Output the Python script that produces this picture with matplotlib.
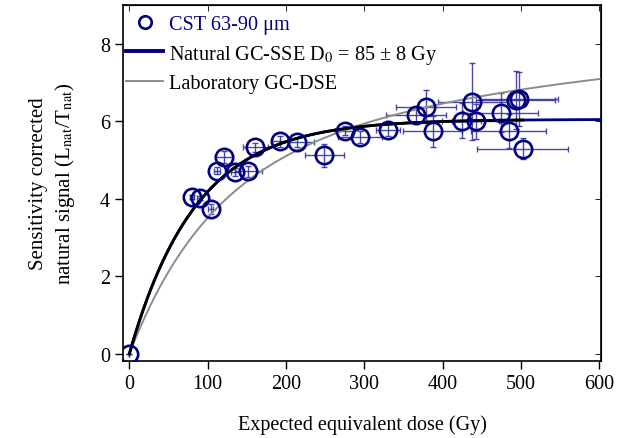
import numpy as np
import matplotlib
matplotlib.use("Agg")
import matplotlib.pyplot as plt

plt.rcParams["font.family"] = ["Liberation Serif", "DejaVu Serif"]
plt.rcParams["mathtext.fontset"] = "stix"

# measured points: expected dose (Gy), Lnat/Tnat and errors
dose = [0, 80, 90, 104, 112, 121, 135, 152, 161, 192, 214, 249, 275, 294, 330,
        366, 379, 387, 424, 438, 442, 474, 484, 493, 497, 502]
signal = [0.0, 4.04, 4.02, 3.74, 4.73, 5.08, 4.70, 4.71, 5.33, 5.48, 5.46, 5.12, 5.76,
          5.60, 5.78, 6.17, 6.38, 5.74, 6.02, 6.51, 6.00, 6.22, 5.75, 6.55, 6.58, 5.29]
dose_err = [0, 3, 3, 3, 4, 11, 5, 17, 16, 10, 22, 25, 12, 28, 15,
            38, 38, 38, 25, 44, 30, 48, 48, 50, 50, 58]
signal_err = [0, 0.05, 0.05, 0.12, 0.1, 0.15, 0.1, 0.15, 0.12, 0.15, 0.12, 0.3, 0.12,
              0.15, 0.15, 0.2, 0.42, 0.4, 0.45, 1.0, 0.45, 0.5, 0.45, 0.75, 0.7, 0.27]

# fitted curve parameters
sse_a, sse_d0 = 6.05, 85.0
dse_a1, dse_d1, dse_a2, dse_d2 = 4.5, 100.0, 3.8, 520.0

x = np.linspace(0, 600, 400)
sse = sse_a * (1 - np.exp(-x / sse_d0))
dse = dse_a1 * (1 - np.exp(-x / dse_d1)) + dse_a2 * (1 - np.exp(-x / dse_d2))

fig = plt.figure(figsize=(6.39, 4.39), dpi=100)
ax = fig.add_axes([0.1925, 0.1754, 0.748, 0.811])

ax.errorbar(dose, signal, xerr=dose_err, yerr=signal_err, fmt="none",
            ecolor="#2a2a9a", elinewidth=1.0, capsize=2.5, alpha=0.85, zorder=2)
ax.plot(x, dse, color="#8c8c8c", lw=1.4, zorder=3, label="Laboratory GC-DSE")
ax.plot(x, sse, color="#000080", lw=2.0, zorder=4,
        label="Natural GC-SSE D$_0$ = 85 ± 8 Gy")
m = x <= 503
ax.plot(x[m], sse[m], color="black", lw=2.0, zorder=4)
ax.plot(dose, signal, "o", mfc="none", mec="#000080", ms=12.5, mew=1.9, zorder=5,
        label="CST 63-90 μm")

handles, labels = ax.get_legend_handles_labels()
order = [2, 1, 0]
leg = ax.legend([handles[i] for i in order], [labels[i] for i in order],
                loc="upper left", frameon=False, fontsize=14.6, handlelength=1.8,
                handletextpad=0.3, labelspacing=0.42, borderaxespad=0.0,
                bbox_to_anchor=(-0.01, 0.995))
leg.legend_handles[0].set_markersize(9)
leg.legend_handles[1].set_linewidth(2.8)
leg.get_texts()[0].set_color("#000080")

ax.set_xlim(-8, 602)
ax.set_ylim(-0.18, 9.0)
ax.set_xticks(range(0, 601, 100))
ax.set_yticks(range(0, 9, 2))
ax.tick_params(axis="both", which="major", direction="out", length=6, width=1,
               labelsize=14.5)
secx = ax.secondary_xaxis("top")
secx.set_xticks(range(0, 601, 100))
secx.tick_params(direction="in", length=4, width=0.6, labeltop=False)
secy = ax.secondary_yaxis("right")
secy.set_yticks(range(0, 9, 2))
secy.tick_params(direction="in", length=4, width=0.6, labelright=False)
for s in ax.spines.values():
    s.set_linewidth(1.2)

ax.set_xlabel("Expected equivalent dose (Gy)", fontsize=14.5, labelpad=15)
ax.set_ylabel("Sensitivity corrected\nnatural signal (L$_{\\mathrm{nat}}$/T$_{\\mathrm{nat}}$)",
              fontsize=15, labelpad=16, linespacing=1.35)

fig.savefig("out.png", dpi=100)
